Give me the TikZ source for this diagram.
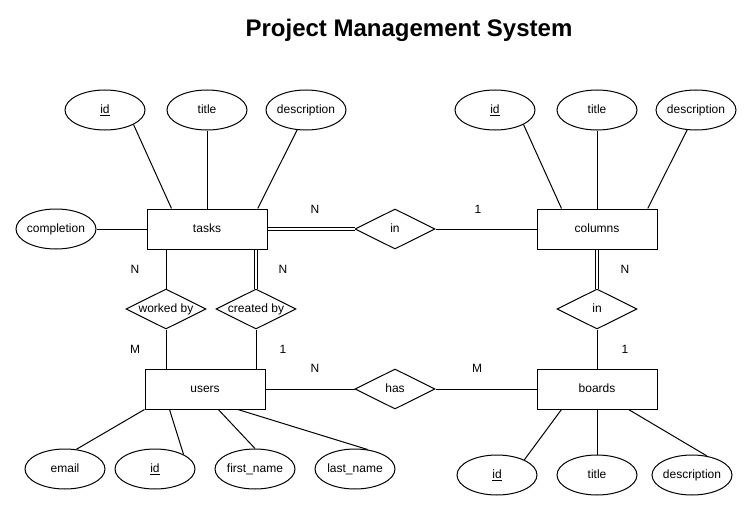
\documentclass[tikz,border=0pt]{standalone}
\usepackage{fontspec}
\setmainfont{Liberation Sans}
\usetikzlibrary{shapes.geometric}

\begin{document}
\begin{tikzpicture}[x=0.75pt,y=-0.75pt,line width=0.75pt,
	every node/.style={font=\fontsize{9}{11}\selectfont,text height=6.5pt,text depth=1.5pt},
	entity/.style={draw,minimum width=90pt,minimum height=30pt,inner sep=0pt},
	attrib/.style={draw,ellipse,minimum width=60pt,minimum height=30pt,inner ysep=0pt,inner xsep=-1pt},
	rel/.style={draw,diamond,aspect=2,minimum width=60pt,minimum height=30pt,inner sep=0pt},
	dbl/.style={double,double distance=1.5pt}]

\useasboundingbox (0,0) rectangle (753,510);

\newcommand{\natt}[4]{
	\node[attrib](#1) at (#2,#3) {#4};
}

\node[text height=,text depth=] (title) at (409,30) {\fontsize{18}{22}\selectfont\bfseries Project Management System};

% entities
\foreach \n/\x/\y in {tasks/207/229,columns/597/229,users/205/389,boards/597/389}{
	\node[entity] (\n) at (\x,\y) {\n};
}

% relationships
\node[rel] (inTC) at (395,229) {in};
\node[rel] (inCB) at (597,309) {in};
\node[rel] (workedby) at (166,309) {worked by};
\node[rel] (createdby) at (256,309) {created by};
\node[rel] (has) at (395,389) {has};

% attributes
\foreach \n/\x/\y/\t in {taskid/105/110/\underline{id},tasktitle/207/110/title,taskdesc/306/110/description,
	completion/56/229/completion,colid/495/110/\underline{id},coltitle/597/110/title,coldesc/696/110/description,
	useremail/65/469/email,userid/155/469/\underline{id},userfirst/255/469/first\_name,userlast/355/469/last\_name,
	boardid/497/475/\underline{id},boardtitle/597/475/title,boarddesc/692/475/description}{
	\natt{\n}{\x}{\y}{\t}
}

\draw (tasks.150) -- (taskid.-27);
\draw (tasks) -- (tasktitle);
\draw (tasks.22) -- (taskdesc.-114);
\draw (completion) -- (tasks);
\draw (columns.150) -- (colid.-27);
\draw (columns) -- (coltitle);
\draw (columns.22) -- (coldesc.-114);
\draw (users.south west) -- (useremail.60);
\draw (users.210) -- (userid.27);
\draw (users.-57) -- (userfirst.north);
\draw (users.-32) -- (userlast.57);
\draw (boards.210) -- (boardid.29);
\draw (boards) -- (boardtitle);
\draw (boards.-33) -- (boarddesc.52);

\draw[dbl] (tasks) -- (inTC);
\draw (inTC) -- (columns);
\draw (tasks.south -| workedby) -- (workedby);
\draw (workedby) -- (users.north -| workedby);
\draw[dbl] (tasks.south -| createdby) -- (createdby);
\draw (createdby) -- (users.north -| createdby);
\draw (users) -- (has);
\draw (has) -- (boards);
\draw[dbl] (columns) -- (inCB);
\draw (inCB) -- (boards);

% cardinalities
\foreach \n/\x/\y/\t in {cTI/315/210/N,cIC/478/210/1,cTW/135/270/N,cTC/283/270/N,cWU/135/350/M,
	cCU/283/350/1,cUH/315/369/N,cHB/477/369/M,cCI/625/270/N,cIB/625/350/1}{
	\node (\n) at (\x,\y) {\t};
}

\end{tikzpicture}
\end{document}
